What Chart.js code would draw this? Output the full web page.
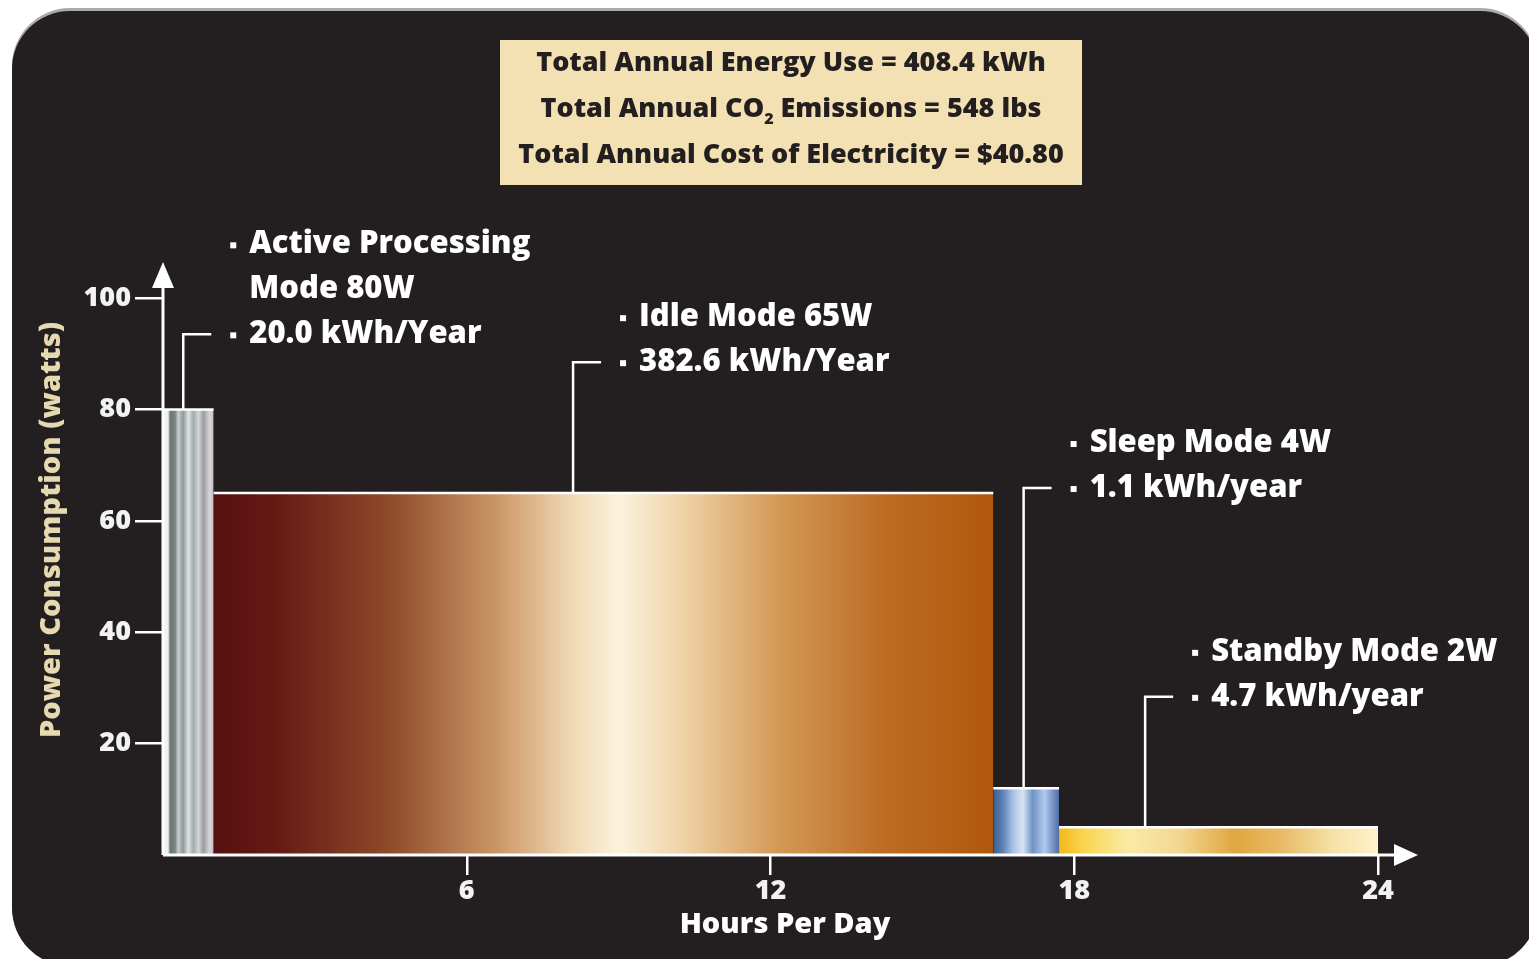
<!DOCTYPE html>
<html>
<head>
<meta charset="utf-8">
<title>Power Consumption by Mode</title>
<script src="https://cdn.jsdelivr.net/npm/chart.js@4.4.1/dist/chart.umd.min.js"></script>
<style>
  html, body { margin: 0; padding: 0; background: #fff; overflow: hidden; }
  #wrap { position: relative; width: 1529px; height: 959px; }
  #panel { position: absolute; left: 12px; top: 11px; width: 1526px; height: 955px;
           background: #231f20; border-radius: 58px; box-shadow: 0 -3px 0 #a9aaaa; }
  #cnvPower { position: absolute; left: 0; top: 0; }
</style>
</head>
<body>
<div id="wrap">
  <div id="panel"></div>
  <canvas id="cnvPower" width="1529" height="959"></canvas>
</div>
<script>
// modes along the day, left to right
let modes = ['Active Processing', 'Idle', 'Sleep', 'Standby']
let modeStartHour = [0, 1, 16.4, 17.7]
let modeEndHour = [1, 16.4, 17.7, 24]
// bar heights as drawn on the watts axis
let barWatts = [80, 65, 12, 5]

let modeText = [
  ['• Active Processing', '  Mode 80W', '• 20.0 kWh/Year'],
  ['• Idle Mode 65W', '• 382.6 kWh/Year'],
  ['• Sleep Mode 4W', '• 1.1 kWh/year'],
  ['• Standby Mode 2W', '• 4.7 kWh/year'],
]
let summaryText = [
  'Total Annual Energy Use = 408.4 kWh',
  'Total Annual CO₂ Emissions = 548 lbs',
  'Total Annual Cost of Electricity = $40.80',
]

let xTicks = [6, 12, 18, 24]
let yTicks = [20, 40, 60, 80, 100]

// where each callout leader line goes (hours, watts)
let leaderHour = [0.4, 8.1, 17.0, 19.4]
let leaderWatts = [93.5, 88.5, 65.9, 28.4]

const FONT = '"Open Sans", "DejaVu Sans", sans-serif'

let barStops = [
  [[0, '#f4f4f4'], [0.1, '#f0f0f0'], [0.14, '#6d7676'], [0.24, '#7b8484'], [0.3, '#c7cfcf'], [0.4, '#8f9898'],
   [0.5, '#dfe4e8'], [0.6, '#a3abab'], [0.7, '#d2d6da'], [0.8, '#99a0a0'], [0.92, '#dcd2da'], [1, '#bfc2c6']],
  [[0, '#561010'], [0.08, '#651a14'], [0.22, '#8c4828'], [0.36, '#c99464'], [0.46, '#f0d9b4'], [0.52, '#fbf2de'],
   [0.6, '#efd3a8'], [0.72, '#d59a58'], [0.86, '#bd6c24'], [1, '#b0580c']],
  [[0, '#3c5f92'], [0.15, '#5e82b6'], [0.3, '#a9c3e6'], [0.45, '#d6e4f4'], [0.6, '#6f92c6'], [0.78, '#b2c9ee'], [1, '#4e6ea6']],
  [[0, '#f6b81c'], [0.08, '#f8d650'], [0.22, '#fbeaa8'], [0.38, '#f2d690'], [0.55, '#e0a640'], [0.7, '#e8bb68'],
   [0.86, '#f6e2a8'], [1, '#fff3cc']],
]

function barGradient(i) {
  return (c) => {
    let chart = c.chart
    if (!chart.chartArea) return barStops[i][0][1]
    let x = chart.scales.x
    let g = chart.ctx.createLinearGradient(x.getPixelForValue(modeStartHour[i]), 0, x.getPixelForValue(modeEndHour[i]), 0)
    barStops[i].forEach((s) => g.addColorStop(s[0], s[1]))
    return g
  }
}

// axes with arrows, callouts, summary box and axis titles
const decorations = {
  id: 'decorations',
  afterDatasetsDraw(chart) {
    let { ctx, chartArea: a, scales: { x, y } } = chart
    ctx.save()
    ctx.strokeStyle = '#ffffff'
    ctx.fillStyle = '#ffffff'
    ctx.lineWidth = 3
    ctx.beginPath()
    ctx.moveTo(a.left, a.bottom); ctx.lineTo(a.left, a.top)
    ctx.moveTo(a.left, a.bottom); ctx.lineTo(a.right + 18, a.bottom)
    ctx.stroke()
    ctx.beginPath()
    ctx.moveTo(a.left, a.top - 25); ctx.lineTo(a.left - 11, a.top + 1); ctx.lineTo(a.left + 11, a.top + 1)
    ctx.closePath(); ctx.fill()
    ctx.beginPath()
    ctx.moveTo(a.right + 40, a.bottom); ctx.lineTo(a.right + 16, a.bottom - 11); ctx.lineTo(a.right + 16, a.bottom + 11)
    ctx.closePath(); ctx.fill()

    // callouts
    ctx.lineWidth = 2.5
    ctx.font = '800 31px ' + FONT
    ctx.textBaseline = 'middle'
    ctx.textAlign = 'left'
    modes.forEach((m, i) => {
      let lx = x.getPixelForValue(leaderHour[i])
      let top = y.getPixelForValue(barWatts[i])
      let ly = y.getPixelForValue(leaderWatts[i])
      ctx.beginPath()
      ctx.moveTo(lx, top); ctx.lineTo(lx, ly); ctx.lineTo(lx + 28, ly)
      ctx.stroke()
      let lines = modeText[i]
      lines.forEach((t, j) => {
        let ty = ly - (lines.length - 1 - j) * 45
        if (t.startsWith('• ')) {
          ctx.fillRect(lx + 47, ty - 2, 6, 6)
        }
        ctx.fillText(t.slice(2), lx + 66, ty)
      })
    })

    // y axis title
    ctx.save()
    ctx.translate(52, 530)
    ctx.rotate(-Math.PI / 2)
    ctx.textAlign = 'center'
    ctx.fillStyle = '#e6d9b0'
    ctx.font = '800 29px ' + FONT
    ctx.fillText('Power Consumption (watts)', 0, 0)
    ctx.restore()

    // x axis title
    ctx.textAlign = 'center'
    ctx.font = '800 29px ' + FONT
    ctx.fillText('Hours Per Day', 785, 925)

    // summary box
    ctx.fillStyle = '#f3e1b3'
    ctx.fillRect(500, 40, 582, 145)
    ctx.fillStyle = '#231f20'
    ctx.font = '800 27px ' + FONT
    summaryText.forEach((t, j) => {
      let cy = 63 + j * 46
      let parts = t.split('₂')
      if (parts.length == 1) {
        ctx.textAlign = 'center'
        ctx.fillText(t, 791, cy)
        return
      }
      ctx.textAlign = 'left'
      let w0 = ctx.measureText(parts[0]).width
      let w1 = ctx.measureText(parts[1]).width
      ctx.font = '800 16px ' + FONT
      let ws = ctx.measureText('2').width
      let sx = 791 - (w0 + ws + w1) / 2
      ctx.fillText('2', sx + w0, cy + 10)
      ctx.font = '800 27px ' + FONT
      ctx.fillText(parts[0], sx, cy)
      ctx.fillText(parts[1], sx + w0 + ws, cy)
    })
    ctx.restore()
  },
}

let ctx = document.getElementById('cnvPower').getContext('2d')
let chart = new Chart(ctx, {
  type: 'line',
  data: {
    datasets: modes.map((m, i) => ({
      label: m,
      data: [
        { x: modeStartHour[i], y: barWatts[i] },
        { x: modeEndHour[i], y: barWatts[i] },
      ],
      fill: 'origin',
      backgroundColor: barGradient(i),
      borderColor: '#ffffff',
      borderWidth: 2.5,
      pointRadius: 0,
      tension: 0,
    })),
  },
  options: {
    responsive: false,
    animation: false,
    layout: { padding: { left: 0, top: 287, right: 151, bottom: 0 } },
    plugins: {
      legend: { display: false },
      tooltip: { enabled: false },
    },
    scales: {
      x: {
        type: 'linear',
        min: 0,
        max: 24,
        afterBuildTicks: (s) => { s.ticks = xTicks.map((v) => ({ value: v })) },
        afterFit: (s) => { s.height = 104 },
        grid: { drawOnChartArea: false, color: '#ffffff', lineWidth: 2.5, tickLength: 20 },
        border: { display: false },
        ticks: { color: '#f2f2f2', font: { family: FONT, size: 27, weight: '800' }, padding: 0, maxRotation: 0 },
      },
      y: {
        min: 0,
        max: 102,
        afterBuildTicks: (s) => { s.ticks = yTicks.map((v) => ({ value: v })) },
        afterFit: (s) => { s.width = 163 },
        grid: { drawOnChartArea: false, color: '#ffffff', lineWidth: 2.5, tickLength: 28 },
        border: { display: false },
        ticks: { color: '#f2f2f2', font: { family: FONT, size: 27, weight: '800' }, padding: 4 },
      },
    },
  },
  plugins: [decorations],
})
</script>
</body>
</html>
